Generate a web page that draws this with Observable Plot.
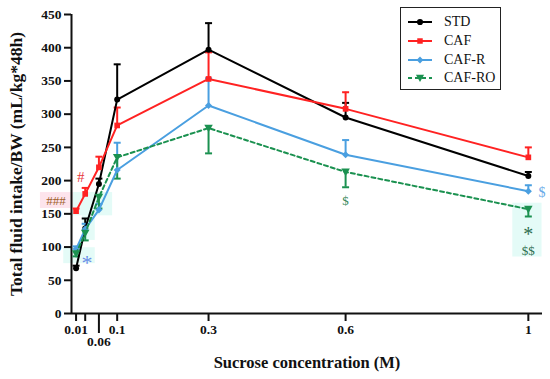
<!DOCTYPE html>
<html><head><meta charset="utf-8">
<script src="https://cdn.jsdelivr.net/npm/d3@7"></script>
<script src="https://cdn.jsdelivr.net/npm/@observablehq/plot@0.6"></script>
<style>
body{margin:0;background:#fff;}
#wrap{position:relative;width:550px;height:379px;}
#legend{position:absolute;left:400px;top:7px;width:101px;height:83px;border:1.5px solid #222;box-sizing:border-box;background:#fff;font-family:"Liberation Serif",serif;font-size:14px;}
.row{position:absolute;left:0;height:18px;display:flex;align-items:center;}
.row svg{margin-left:6px;}
.row span{margin-left:11px;color:#111;}
</style></head><body><div id="wrap"><div id="chart"></div><div id="legend"></div></div>
<script>
const conc = [0.01, 0.03, 0.06, 0.1, 0.3, 0.6, 1];
const seriesNames = ["STD", "CAF", "CAF-R", "CAF-RO"];
const STD = [68, 128, 195, 322, 397, 295, 207];
const STD_err = [72, 143, 203, 375, 437, 317, 213];
const CAF = [154, 180, 220, 283, 353, 308, 235];
const CAF_err = [158, 189, 236, 310, 393, 333, 250];
const CAFR = [97, 127, 156, 216, 313, 239, 184];
const CAFR_err = [101, 135, 165, 257, 354, 261, 193];
const CAFRO = [90, 121, 175, 235, 279, 213, 157];
const CAFRO_err = [86, 110, 158, 203, 241, 190, 146];
const yTicks = [0, 50, 100, 150, 200, 250, 300, 350, 400, 450];
const xTicks = [0.01, 0.03, 0.1, 0.3, 0.6, 1];
const xTickLabels = ["0.01", "", "0.1", "0.3", "0.6", "1"];
const xTickLow = [0.06];
const xTickLowLabels = ["0.06"];
const annotations = [
  {x: 0.02, y: 205, text: "#", color: "#e8383d", size: 15},
  {x: -0.034, y: 170, text: "###", color: "#a0602a", size: 13},
  {x: 0.034, y: 76, text: "*", color: "#6a8ee8", size: 22},
  {x: 0.6, y: 170, text: "$", color: "#3a8a5a", size: 13},
  {x: 1.03, y: 182, text: "$", color: "#6aa9e8", size: 14},
  {x: 1.0, y: 119, text: "*", color: "#2f6f4f", size: 20},
  {x: 1.0, y: 94, text: "$$", color: "#2f6f4f", size: 13}
];
const highlights = [
  {x1: -0.068, x2: 0.004, y1: 158, y2: 182, fill: "#fde4ec"},
  {x1: 0.004, x2: 0.09, y1: 147, y2: 182, fill: "#e4fbf7"},
  {x1: 0.024, x2: 0.052, y1: 110, y2: 147, fill: "#e4fbf7"},
  {x1: -0.017, x2: 0.052, y1: 75, y2: 99, fill: "#e4fbf7"},
  {x1: 0.966, x2: 1.03, y1: 85, y2: 166, fill: "#e4fbf7"}
];
const colors = ["#000000", "#ff2222", "#4a9fe0", "#1b9150"];

const invTriangle = {draw(ctx, size) {const r = Math.sqrt(size) * 0.75; ctx.moveTo(-r, -r * 0.8); ctx.lineTo(r, -r * 0.8); ctx.lineTo(0, r); ctx.closePath();}};
const capSym = {draw(ctx, size) {ctx.moveTo(-3.5, 0); ctx.lineTo(3.5, 0);}};
const symbols = ["circle", "square", "diamond2", invTriangle];

const means = [STD, CAF, CAFR, CAFRO];
const errs = [STD_err, CAF_err, CAFR_err, CAFRO_err];
const data = [];
seriesNames.forEach((s, i) => conc.forEach((c, j) => data.push({series: s, x: c, y: means[i][j], e: errs[i][j], k: i})));

const marks = [
  Plot.rect(highlights, {x1: "x1", x2: "x2", y1: "y1", y2: "y2", fill: "fill"}),
  Plot.ruleY([0], {strokeWidth: 2}),
  Plot.ruleX([0], {y1: 0, y2: 450, strokeWidth: 2}),
  Plot.axisY({ticks: yTicks, tickSize: 7, tickPadding: 3, strokeWidth: 2, fontSize: 13.5, fontWeight: "bold", label: null}),
  Plot.axisX({ticks: xTicks, tickFormat: d => xTickLabels[xTicks.indexOf(d)], tickSize: 8, tickPadding: 3, strokeWidth: 2, fontSize: 13.5, fontWeight: "bold", label: null}),
  Plot.axisX({ticks: xTickLow, tickFormat: d => xTickLowLabels[xTickLow.indexOf(d)], tickSize: 20, tickPadding: 3, strokeWidth: 2, fontSize: 13.5, fontWeight: "bold", label: null}),
  Plot.text(["Total fluid intake/BW (mL/kg*48h)"], {frameAnchor: "left", textAnchor: "middle", rotate: -90, dx: -55, fontSize: 17.5, fontWeight: "bold"}),
  Plot.text(["Sucrose concentration (M)"], {frameAnchor: "bottom", textAnchor: "middle", dy: 54, fontSize: 16.5, fontWeight: "bold"})
];
seriesNames.forEach((s, i) => {
  const d = data.filter(r => r.series === s);
  marks.push(Plot.ruleX(d, {x: "x", y1: "y", y2: "e", stroke: colors[i], strokeWidth: 2}));
  marks.push(Plot.dot(d, {x: "x", y: "e", symbol: capSym, stroke: colors[i], strokeWidth: 2, r: 3}));
});
seriesNames.forEach((s, i) => {
  const d = data.filter(r => r.series === s);
  marks.push(Plot.line(d, {x: "x", y: "y", stroke: colors[i], strokeWidth: 2, strokeDasharray: i === 3 ? "4,3" : null}));
  marks.push(Plot.dot(d, {x: "x", y: "y", symbol: symbols[i], fill: colors[i], stroke: "none", r: i === 0 ? 3 : 3.2}));
});
marks.push(Plot.text(annotations, {x: "x", y: "y", text: "text", fill: "color", fontSize: "size", fontWeight: "normal"}));

const chart = Plot.plot({
  width: 550, height: 379,
  marginLeft: 71, marginRight: 8, marginTop: 14, marginBottom: 66,
  x: {type: "linear", domain: [0, 1.031], label: null},
  y: {domain: [0, 450], label: null},
  symbol: {type: "identity"},
  style: {fontFamily: "'Liberation Serif', serif", color: "#111", background: "#fff"},
  marks
});
document.getElementById("chart").appendChild(chart);

const leg = document.getElementById("legend");
const rowTops = [5, 24, 43, 61];
seriesNames.forEach((s, i) => {
  const row = document.createElement("div");
  row.className = "row";
  row.style.top = rowTops[i] + "px";
  const sym = d3.symbol(symbols[i] === "circle" ? d3.symbolCircle : symbols[i] === "square" ? d3.symbolSquare : symbols[i] === "diamond2" ? d3.symbolDiamond2 : invTriangle, 30)();
  row.innerHTML = `<svg width="26" height="10"><line x1="1" x2="25" y1="5" y2="5" stroke="${colors[i]}" stroke-width="2" ${i === 3 ? 'stroke-dasharray="4,3"' : ''}/><path d="${sym}" transform="translate(13,5)" fill="${colors[i]}"/></svg><span>${s}</span>`;
  leg.appendChild(row);
});
</script></body></html>
